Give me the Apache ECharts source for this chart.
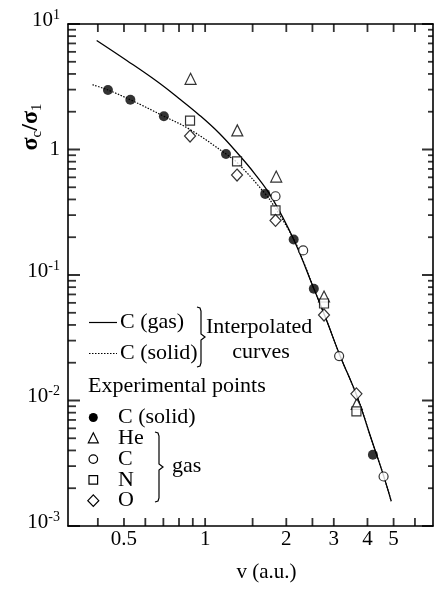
<!DOCTYPE html>
<html>
<head>
<meta charset="utf-8">
<script src="https://cdn.jsdelivr.net/npm/echarts@6/dist/echarts.min.js"></script>
<style>
  html, body { margin: 0; padding: 0; background: #fff; }
  #chart { width: 435px; height: 591px; }
</style>
</head>
<body>
<div id="chart"></div>
<script>
const serif = '"Liberation Serif", "DejaVu Serif", serif';

// interpolated curves: v (a.u.) and sigma_c / sigma_1
const gasCurveV = [0.396, 0.512, 0.662, 0.8, 0.95, 1.128, 1.339, 1.523, 1.763, 2.13, 2.529, 2.804, 3.162, 3.66, 4.163, 4.586, 4.9];
const gasCurveY = [7.39, 5.12, 3.494, 2.55, 1.887, 1.346, 0.899, 0.6462, 0.4175, 0.1918, 0.0781, 0.045, 0.02284, 0.01076, 0.00471, 0.00253, 0.001576];
const solidCurveV = [0.382, 0.436, 0.528, 0.703, 0.879, 1.195, 1.313, 1.67, 1.825, 2.134, 2.321, 2.529, 2.804, 3.162, 3.66, 4.163, 4.586, 4.9];
const solidCurveY = [3.28, 2.98, 2.49, 1.842, 1.443, 0.921, 0.788, 0.4436, 0.3388, 0.1918, 0.1258, 0.0781, 0.045, 0.02284, 0.01076, 0.00471, 0.00253, 0.001576];

// experimental points
const cSolidV = [0.436, 0.528, 0.703, 1.195, 1.67, 2.13, 2.53, 4.19];
const cSolidY = [2.98, 2.49, 1.84, 0.921, 0.443, 0.192, 0.0776, 0.0037];
const heV = [0.883, 1.316, 1.835, 2.76, 3.65];
const heY = [3.66, 1.42, 0.609, 0.0674, 0.0094];
const cGasV = [1.824, 2.31, 3.14, 4.59];
const cGasY = [0.424, 0.157, 0.0226, 0.00248];
const nV = [0.879, 1.313, 1.824, 2.76, 3.64];
const nY = [1.7, 0.805, 0.327, 0.0593, 0.0082];
const oV = [0.879, 1.313, 1.824, 2.76, 3.64];
const oY = [1.28, 0.626, 0.272, 0.048, 0.0113];

// axis range and ticks
const xMin = 0.31, xMax = 7, yMin = 0.001, yMax = 10;
const xTickValues = [0.4, 0.5, 0.6, 0.7, 0.8, 0.9, 1, 1.5, 2, 2.5, 3, 4, 5, 6];
const xLabelValues = [0.5, 1, 2, 3, 4, 5];
const yMajorTicks = [0.001, 0.01, 0.1, 1, 10];
const yMinorMantissas = [2, 3, 4, 5, 6, 7, 8, 9];
const yMinorTicks = [];
yMajorTicks.slice(0, -1).forEach((d) => yMinorMantissas.forEach((m) => yMinorTicks.push(+(d * m).toPrecision(3))));

// legend texts
const curveLabels = ['C (gas)', 'C (solid)'];
const pointLabels = ['C (solid)', 'He', 'C', 'N', 'O'];
const pointSymbols = ['dot', 'triangle', 'circle', 'square', 'diamond'];

const zip = (xs, ys) => xs.map((x, i) => [x, ys[i]]);

const openItem = { color: '#fff', borderColor: '#000', borderWidth: 1.2 };

function scatter(name, xs, ys, symbol, size, style) {
  return {
    type: 'scatter', name, data: zip(xs, ys), symbol, symbolSize: size,
    itemStyle: style, z: 5, silent: true
  };
}

// inward tick marks drawn on the axis frame through the axis scales
function tickMarks(points, size, offset) {
  return {
    type: 'scatter', data: points, symbol: 'rect', symbolSize: size, symbolOffset: offset,
    itemStyle: { color: '#000' }, z: 4, silent: true, clip: false
  };
}

function yAxisDef(position, showLabel) {
  return {
    type: 'log', position, min: yMin, max: yMax, interval: 1,
    axisLine: { show: true, lineStyle: { color: '#000', width: 1.6 } },
    axisTick: { show: false },
    splitLine: { show: false },
    axisLabel: {
      show: showLabel, margin: 8, showMinLabel: true, showMaxLabel: true,
      formatter: (val) => {
        const e = Math.round(Math.log10(val));
        return e === 0 ? '{one|1}' : '{b|10}{s|' + e + '}';
      },
      rich: {
        one: { fontSize: 21, fontFamily: serif, color: '#000' },
        b: { fontSize: 21, fontFamily: serif, color: '#000', padding: [0, 0, 8, 0] },
        s: { fontSize: 14, fontFamily: serif, color: '#000', padding: [0, 0, 18, 0] }
      }
    }
  };
}

function xAxisDef(position, showLabel) {
  const axis = {
    type: 'log', position, min: xMin, max: xMax,
    axisLine: { show: true, lineStyle: { color: '#000', width: 1.6 } },
    axisTick: { show: false },
    splitLine: { show: false },
    axisLabel: {
      show: showLabel, customValues: xLabelValues, margin: 3,
      fontSize: 21, fontFamily: serif, color: '#000',
      formatter: (v) => String(+(+v).toPrecision(3))
    }
  };
  if (showLabel) {
    axis.name = 'v (a.u.)';
    axis.nameLocation = 'middle';
    axis.nameGap = 36;
    axis.nameMoveOverlap = false;
    axis.nameTextStyle = { fontSize: 21, fontFamily: serif, color: '#000', padding: [0, 0, 0, 32] };
  }
  return axis;
}

function brace(x, top, bottom, w) {
  const mid = (top + bottom) / 2;
  const xm = x + w / 2;
  return {
    type: 'polyline', silent: true,
    shape: { points: [[x, top], [xm - 1, top + 1], [xm, top + 4], [xm, mid - 3], [x + w, mid], [xm, mid + 3], [xm, bottom - 4], [xm - 1, bottom - 1], [x, bottom]] },
    style: { fill: null, stroke: '#000', lineWidth: 1.2 }
  };
}

function label(text, x, y, extra) {
  return {
    type: 'text', x, y, silent: true,
    style: Object.assign({ text, fontSize: 22, fontFamily: serif, fill: '#000', align: 'left', verticalAlign: 'middle' }, extra || {})
  };
}

function marker(kind, cx, cy) {
  const stroke = { fill: '#fff', stroke: '#000', lineWidth: 1.2 };
  if (kind === 'dot') return { type: 'circle', shape: { cx, cy, r: 4.5 }, style: { fill: '#000' } };
  if (kind === 'circle') return { type: 'circle', shape: { cx, cy, r: 4.3 }, style: stroke };
  if (kind === 'square') return { type: 'rect', shape: { x: cx - 4.3, y: cy - 4.3, width: 8.6, height: 8.6 }, style: stroke };
  if (kind === 'triangle') return { type: 'polygon', shape: { points: [[cx, cy - 5.5], [cx + 5, cy + 4.5], [cx - 5, cy + 4.5]] }, style: stroke };
  return { type: 'polygon', shape: { points: [[cx, cy - 5.8], [cx + 5.5, cy], [cx, cy + 5.8], [cx - 5.5, cy]] }, style: stroke };
}

const graphics = [];
// y axis title
graphics.push({
  type: 'text', x: 31, y: 127, rotation: Math.PI / 2, silent: true,
  style: {
    text: '{a|σ}{b|c}{a|/σ}{b|1}', align: 'center', verticalAlign: 'middle',
    rich: {
      a: { fontSize: 24, fontFamily: serif, fontWeight: 'bold', fill: '#000' },
      b: { fontSize: 15, fontFamily: serif, fill: '#000', padding: [12, 0, 0, 0] }
    }
  }
});
// curve legend
curveLabels.forEach((txt, i) => {
  const y = 322.5 + i * 31;
  graphics.push({
    type: 'line', silent: true, shape: { x1: 89, y1: y, x2: 117, y2: y },
    style: { stroke: '#000', lineWidth: 1.2, lineDash: i === 0 ? null : [1.5, 1.5] }
  });
  graphics.push(label(txt, 120, y));
});
graphics.push(brace(197, 307, 367, 8));
graphics.push(label('Interpolated', 206, 327));
graphics.push(label('curves', 261, 352, { align: 'center' }));
graphics.push(label('Experimental points', 88, 386));
// point legend
pointLabels.forEach((txt, i) => {
  const y = 417.5 + i * 20.8;
  graphics.push(marker(pointSymbols[i], 93.3, y));
  graphics.push(label(txt, 118, y));
});
graphics.push(brace(155, 432, 502, 8));
graphics.push(label('gas', 172, 466));

const chart = echarts.init(document.getElementById('chart'), null, { renderer: 'canvas' });
chart.setOption({
  animation: false,
  backgroundColor: '#fff',
  grid: { left: 68, right: 2, top: 24, bottom: 65 },
  xAxis: [xAxisDef('bottom', true), xAxisDef('top', false)],
  yAxis: [yAxisDef('left', true), yAxisDef('right', false)],
  series: [
    {
      type: 'line', name: 'C (gas) curve', data: zip(gasCurveV, gasCurveY), symbol: 'none', smooth: 0.4,
      lineStyle: { color: '#000', width: 1.3, type: 'solid' }, z: 2, silent: true
    },
    {
      type: 'line', name: 'C (solid) curve', data: zip(solidCurveV, solidCurveY), symbol: 'none', smooth: 0.4,
      lineStyle: { color: '#000', width: 1.2, type: [1.5, 1.5] }, z: 3, silent: true
    },
    scatter('C (solid)', cSolidV, cSolidY, 'circle', 10, { color: '#000' }),
    scatter('He', heV, heY, 'triangle', 11, openItem),
    scatter('C', cGasV, cGasY, 'circle', 9, openItem),
    scatter('N', nV, nY, 'rect', 9, openItem),
    scatter('O', oV, oY, 'diamond', [11, 12], openItem),
    tickMarks(yMajorTicks.map((v) => [xMin, v]), [12, 2], [6, 0]),
    tickMarks(yMinorTicks.map((v) => [xMin, v]), [8, 1.8], [4, 0]),
    tickMarks(yMajorTicks.map((v) => [xMax, v]), [11, 2], [-5.5, 0]),
    tickMarks(yMinorTicks.map((v) => [xMax, v]), [5, 1.8], [-2.5, 0]),
    tickMarks(xTickValues.map((v) => [v, yMin]), [1.8, 8], [0, -4]),
    tickMarks(xTickValues.map((v) => [v, yMax]), [1.8, 8], [0, 4])
  ],
  graphic: graphics
});
</script>
</body>
</html>
